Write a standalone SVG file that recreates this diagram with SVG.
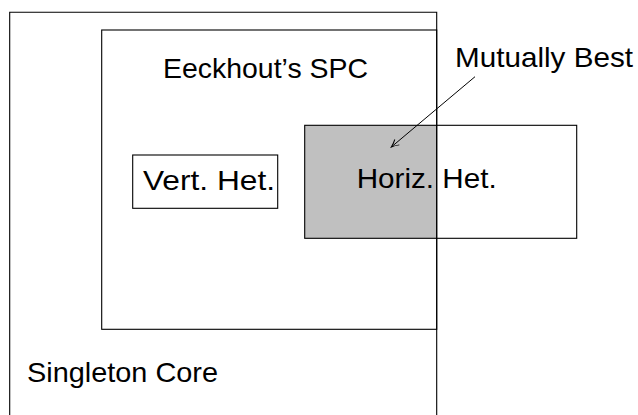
<svg xmlns="http://www.w3.org/2000/svg" width="638" height="415" viewBox="0 0 638 415">
<style>
.box{fill:none;stroke:#000;stroke-width:1.1}
.lbl{font-family:"Liberation Sans",Arial,sans-serif;font-size:28px;fill:#000}
</style>
<defs>
<marker id="arr" markerWidth="10" markerHeight="10" refX="8" refY="5" orient="auto" markerUnits="userSpaceOnUse">
<path d="M1,1.5 Q5,4 8.5,5 Q5,6 1,8.5" fill="none" stroke="#000" stroke-width="1"/>
</marker>
</defs>
<rect x="304.7" y="125.3" width="132" height="113" fill="#c0c0c0"/>
<g id="singleton-core">
<path class="box" d="M9.7,420 V12.3 H436.7 V420"/>
<text class="lbl" x="27" y="381.7" textLength="191" lengthAdjust="spacingAndGlyphs">Singleton Core</text>
</g>
<g id="eeckhout-spc">
<rect class="box" x="101.7" y="30" width="335" height="299.3"/>
<text class="lbl" x="163" y="78.3" textLength="205" lengthAdjust="spacingAndGlyphs">Eeckhout’s SPC</text>
</g>
<g id="vert-het">
<rect class="box" x="132.7" y="155" width="145" height="53.3"/>
<text class="lbl" x="143" y="190" textLength="132" lengthAdjust="spacingAndGlyphs">Vert. Het.</text>
</g>
<g id="horiz-het">
<rect class="box" x="304.7" y="125.3" width="272" height="113"/>
<text class="lbl" x="356.7" y="188.3" textLength="140" lengthAdjust="spacingAndGlyphs">Horiz. Het.</text>
</g>
<g id="mutually-best">
<text class="lbl" x="455" y="67.3" textLength="178" lengthAdjust="spacingAndGlyphs">Mutually Best</text>
</g>
<g id="connectors">
<line x1="475" y1="76.7" x2="391.7" y2="146.7" stroke="#000" stroke-width="1" marker-end="url(#arr)"/>
</g>
</svg>
